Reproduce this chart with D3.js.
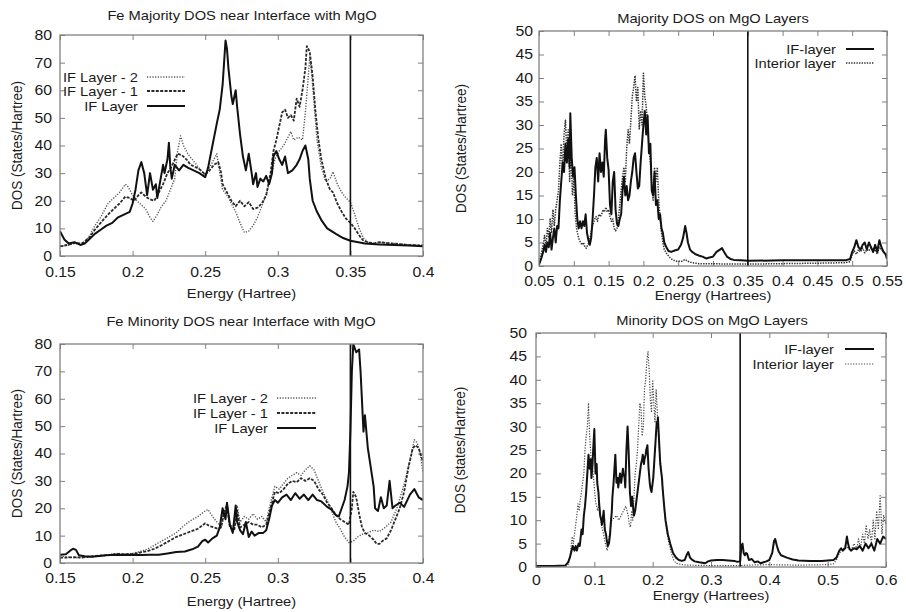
<!DOCTYPE html>
<html>
<head>
<meta charset="utf-8">
<script src="https://cdn.jsdelivr.net/npm/d3@7"></script>
<style>
  body { margin: 0; background: #fff; }
  svg { display: block; }
  text { font-family: "Liberation Sans", Arial, Helvetica, sans-serif; fill: #1a1a1a; }
</style>
</head>
<body>
<svg id="chart" width="906" height="612"></svg>
<script>
// ---- data: [energy, DOS] pairs ----
const feMajIF = [[0.150,9],[0.153,6],[0.156,4.5],[0.160,5],[0.164,4],[0.167,4.5],[0.170,6],[0.174,8],[0.178,9.5],[0.182,11],[0.186,12],[0.190,14],[0.194,15],[0.198,16],[0.200,19],[0.202,24],[0.204,31],[0.206,34],[0.208,30],[0.209,26],[0.210,22],[0.212,30],[0.214,24],[0.216,26],[0.217,21],[0.219,27],[0.221,33],[0.222,30],[0.224,35],[0.225,41],[0.226,32],[0.227,28],[0.229,33],[0.232,31],[0.235,33],[0.238,32],[0.242,31],[0.246,30],[0.250,28.5],[0.252,32],[0.255,40],[0.258,48],[0.260,53],[0.262,62],[0.263,70],[0.264,78],[0.265,75],[0.266,68],[0.268,58],[0.269,55],[0.271,60],[0.272,54],[0.274,44],[0.276,36],[0.278,31],[0.280,37],[0.282,30],[0.283,26],[0.285,30],[0.286,25],[0.288,28],[0.290,27],[0.292,29],[0.294,26],[0.296,30],[0.297,36],[0.299,38],[0.301,35],[0.303,33],[0.305,36],[0.307,30],[0.310,31],[0.313,33],[0.315,35],[0.317,38],[0.319,40],[0.321,35],[0.322,28],[0.324,20],[0.327,16],[0.330,13],[0.334,10],[0.340,8],[0.345,6.5],[0.350,5.5],[0.360,4.5],[0.370,4.2],[0.380,4],[0.390,3.8],[0.400,3.5]];
const feMajL1 = [[0.150,3.5],[0.155,4],[0.160,4.8],[0.165,4.5],[0.170,6.5],[0.174,9.5],[0.178,12],[0.183,15],[0.187,17],[0.191,19],[0.195,21.5],[0.198,21],[0.201,20],[0.204,22],[0.206,23],[0.209,21.5],[0.212,20.5],[0.215,20],[0.218,23],[0.221,26],[0.224,30],[0.227,32.5],[0.231,37],[0.234,36.5],[0.237,35],[0.240,33],[0.244,32],[0.247,31],[0.250,29.5],[0.253,31],[0.256,33],[0.259,34],[0.261,30],[0.262,26],[0.265,23],[0.268,20],[0.271,18],[0.274,20],[0.277,18],[0.280,19.5],[0.283,17],[0.286,17.5],[0.289,19],[0.292,22],[0.295,30],[0.297,38],[0.299,42],[0.301,47],[0.303,52],[0.305,53],[0.307,50],[0.309,51],[0.311,49],[0.313,57],[0.315,54],[0.317,60],[0.319,68],[0.320,76],[0.322,74],[0.324,65],[0.326,52],[0.328,42],[0.330,35],[0.333,28],[0.336,24],[0.338,23],[0.341,19],[0.344,16],[0.347,13.5],[0.350,12],[0.353,10],[0.356,7.5],[0.359,5.5],[0.363,4.8],[0.367,4.6],[0.370,5],[0.375,4.7],[0.380,4.5],[0.390,4],[0.400,3.8]];
const feMajL2 = [[0.150,3.5],[0.155,3.8],[0.160,4.5],[0.165,4.2],[0.170,7],[0.174,11],[0.178,14],[0.183,19],[0.187,21],[0.191,23],[0.195,26],[0.197,25],[0.200,22],[0.203,20],[0.206,18.5],[0.209,17],[0.212,14],[0.214,12.5],[0.217,15],[0.220,18],[0.223,20],[0.226,24],[0.229,28],[0.231,38],[0.233,43.5],[0.235,40],[0.238,37],[0.241,35],[0.244,33],[0.247,31],[0.250,29],[0.253,32],[0.256,35],[0.258,37],[0.260,30],[0.262,24],[0.265,22],[0.268,19],[0.271,16],[0.274,12],[0.277,8.5],[0.280,9],[0.283,11],[0.286,14],[0.289,18],[0.292,22],[0.295,28],[0.298,35],[0.301,38],[0.304,40],[0.307,43],[0.309,45],[0.311,42],[0.314,43],[0.317,42],[0.319,52],[0.321,65],[0.322,72],[0.323,68],[0.325,55],[0.327,42],[0.330,32],[0.333,27],[0.336,28],[0.338,30.5],[0.341,26],[0.344,23],[0.347,21],[0.350,19.5],[0.353,15],[0.356,10],[0.359,6.5],[0.362,5],[0.366,4.5],[0.370,5],[0.375,4.8],[0.380,4.5],[0.390,4],[0.400,3.8]];

const feMinIF = [[0.150,3],[0.154,3.2],[0.157,4.5],[0.159,5.2],[0.161,4.8],[0.163,2.8],[0.167,2.5],[0.172,2.3],[0.177,2.6],[0.182,2.8],[0.188,3],[0.194,2.9],[0.200,3],[0.206,2.9],[0.212,3],[0.218,3],[0.224,3.5],[0.230,4],[0.236,4.2],[0.241,5],[0.245,6],[0.248,8],[0.250,8.5],[0.252,7.5],[0.255,9],[0.258,10],[0.260,13],[0.262,20],[0.264,16],[0.265,22],[0.267,14],[0.269,11],[0.271,21],[0.272,15],[0.274,12],[0.276,10.5],[0.278,15],[0.280,9.5],[0.282,11.5],[0.284,10],[0.287,11],[0.290,11],[0.292,12],[0.294,16],[0.296,21],[0.298,23],[0.300,22],[0.303,24],[0.306,25],[0.309,23],[0.312,25.5],[0.315,23.5],[0.318,25],[0.321,23],[0.324,25],[0.327,23],[0.330,22.5],[0.334,20.5],[0.337,19.5],[0.340,17.5],[0.342,17],[0.344,20],[0.346,23],[0.348,28],[0.349,33],[0.350,48],[0.351,70],[0.352,80],[0.354,77],[0.356,78],[0.357,70],[0.359,48],[0.360,54],[0.362,42],[0.364,35],[0.366,28],[0.367,20],[0.369,19],[0.371,24],[0.373,20],[0.375,21],[0.377,30],[0.379,20],[0.381,21],[0.384,22],[0.387,20.5],[0.391,25],[0.394,27],[0.397,24],[0.400,23]];
const feMinL1 = [[0.150,2],[0.155,2],[0.160,2.1],[0.165,2],[0.170,2.3],[0.175,2.6],[0.180,2.8],[0.185,3],[0.190,3.3],[0.195,3.2],[0.200,3.3],[0.205,3.8],[0.210,4.3],[0.215,5.2],[0.220,6.5],[0.225,8],[0.230,9.5],[0.235,10.5],[0.240,11.5],[0.245,12.5],[0.250,14.5],[0.253,13.5],[0.256,13],[0.259,12.5],[0.261,13],[0.263,19],[0.265,21],[0.267,13],[0.270,12],[0.272,19],[0.274,13],[0.277,14],[0.280,15],[0.283,14],[0.286,14],[0.289,13],[0.292,14],[0.295,20],[0.298,26],[0.301,25.5],[0.304,27],[0.307,29],[0.310,30],[0.313,29.5],[0.316,31],[0.319,30],[0.322,31],[0.325,30],[0.328,27],[0.331,25],[0.334,22],[0.337,20],[0.340,17.5],[0.343,16],[0.346,15],[0.349,14],[0.351,20],[0.352,26],[0.354,24],[0.356,18],[0.358,13],[0.360,11],[0.363,10],[0.366,8.5],[0.368,7],[0.370,7],[0.372,8],[0.375,9],[0.378,12],[0.381,16],[0.384,20],[0.387,26],[0.390,35],[0.393,42],[0.395,43],[0.397,42],[0.400,37]];
const feMinL2 = [[0.150,2.5],[0.155,2.2],[0.160,2],[0.165,2],[0.170,2.2],[0.175,2.5],[0.180,2.8],[0.185,3.2],[0.190,3.5],[0.195,3.3],[0.200,3.5],[0.205,4.2],[0.210,5],[0.215,6.5],[0.220,8],[0.225,9.5],[0.230,11],[0.235,13.5],[0.240,15.5],[0.245,17],[0.250,19],[0.252,19.5],[0.255,17],[0.258,15],[0.261,13],[0.263,17],[0.265,22],[0.267,14],[0.270,13],[0.272,21],[0.274,15],[0.277,17],[0.280,16],[0.283,18],[0.286,16],[0.289,17],[0.292,15],[0.295,22],[0.298,28],[0.301,27],[0.304,29],[0.307,31],[0.310,32],[0.313,33],[0.316,32],[0.319,34],[0.322,35.5],[0.325,34],[0.328,30],[0.331,26],[0.334,23],[0.337,19],[0.340,15],[0.343,12.5],[0.346,9.5],[0.349,7.5],[0.352,8],[0.355,9.5],[0.358,10.5],[0.362,11],[0.366,12],[0.370,11.5],[0.374,13],[0.378,15],[0.382,20],[0.386,27],[0.389,33],[0.392,40],[0.394,45],[0.396,44],[0.398,40],[0.400,33]];

const mgoMajIF = [[0.050,0.3],[0.053,1.5],[0.056,3],[0.058,4.5],[0.060,3],[0.062,5],[0.064,4],[0.066,7],[0.068,3.5],[0.070,6],[0.072,8],[0.074,5],[0.076,8.5],[0.078,8],[0.080,14],[0.082,18],[0.084,22],[0.086,20],[0.088,26],[0.090,22],[0.092,27],[0.094,21],[0.095,32.5],[0.097,23],[0.099,19],[0.101,21],[0.103,15],[0.105,10],[0.107,8],[0.109,9.5],[0.111,8],[0.113,9.5],[0.115,8.5],[0.117,11],[0.119,7],[0.121,5.5],[0.123,4.5],[0.125,6],[0.127,10],[0.129,15],[0.131,21],[0.133,23],[0.135,18],[0.137,24],[0.139,20],[0.141,22],[0.143,19],[0.145,27],[0.146,29],[0.148,23],[0.150,20.5],[0.152,13],[0.154,11],[0.156,18],[0.158,20],[0.160,12],[0.162,9],[0.164,8.5],[0.166,10],[0.168,11],[0.170,16],[0.172,19],[0.174,15],[0.176,17],[0.178,14],[0.180,15],[0.182,18],[0.184,20],[0.186,23],[0.188,24],[0.190,20],[0.192,16.5],[0.194,17],[0.196,22],[0.198,26],[0.200,30],[0.202,33],[0.204,28],[0.206,32],[0.208,24],[0.210,26],[0.212,16],[0.214,15],[0.216,20],[0.218,13],[0.220,14],[0.222,10],[0.224,11],[0.226,8],[0.228,7],[0.230,5],[0.233,4],[0.236,3.2],[0.240,3],[0.245,3.3],[0.250,3.5],[0.254,4.5],[0.257,6],[0.260,8.5],[0.262,7],[0.264,5],[0.267,3.5],[0.270,3],[0.275,2.5],[0.280,2.2],[0.285,2],[0.290,1.6],[0.295,1.8],[0.300,2],[0.305,3],[0.310,3.5],[0.313,3.8],[0.316,3],[0.320,2],[0.325,1.5],[0.330,1.3],[0.340,1.2],[0.350,1.1],[0.400,1.2],[0.450,1.2],[0.490,1.2],[0.497,1.5],[0.500,3],[0.503,4],[0.506,5.5],[0.509,4],[0.512,3.5],[0.515,4.5],[0.518,5],[0.521,3.5],[0.524,5],[0.527,4],[0.530,3],[0.533,4.5],[0.536,3],[0.539,5.5],[0.542,4],[0.545,3],[0.548,2.5],[0.550,1.5]];
const mgoMajInt = [[0.050,0.3],[0.053,2.5],[0.056,4.5],[0.058,6.5],[0.060,4],[0.062,8],[0.064,6],[0.066,10],[0.068,7],[0.070,12],[0.072,8.5],[0.074,12],[0.076,14],[0.078,16],[0.080,22],[0.082,26],[0.084,20],[0.086,28],[0.088,31],[0.090,24],[0.092,29],[0.094,18],[0.096,25],[0.098,15],[0.100,19],[0.102,11],[0.104,8],[0.106,6.5],[0.108,5.5],[0.110,5],[0.112,4.5],[0.114,5],[0.116,4],[0.118,3.8],[0.120,4.5],[0.122,5],[0.124,6.5],[0.126,8],[0.128,9],[0.130,10],[0.132,10.5],[0.134,9.5],[0.136,11],[0.138,10.5],[0.140,11],[0.142,12],[0.144,11.5],[0.146,12.5],[0.148,11.5],[0.150,12],[0.152,10.5],[0.154,9.5],[0.156,10],[0.158,8],[0.160,7.5],[0.162,8],[0.164,10],[0.166,13],[0.168,16],[0.170,19],[0.172,21],[0.174,18],[0.176,25],[0.178,29],[0.180,26],[0.182,31],[0.184,36],[0.186,38],[0.188,40.5],[0.190,35],[0.192,38],[0.194,29],[0.196,33],[0.198,30],[0.200,41],[0.202,36],[0.204,34],[0.206,30],[0.208,25],[0.210,22],[0.212,17],[0.214,14],[0.216,21],[0.218,18],[0.220,21],[0.222,14],[0.224,10],[0.226,7],[0.228,5],[0.230,3.5],[0.234,2.5],[0.238,1.8],[0.242,1.3],[0.248,1],[0.255,1],[0.260,1.4],[0.264,1],[0.270,0.7],[0.280,0.5],[0.300,0.5],[0.320,0.4],[0.350,0.4],[0.400,0.5],[0.450,0.6],[0.490,0.7],[0.497,0.9],[0.500,2.5],[0.503,3.2],[0.506,2.5],[0.509,3.5],[0.512,3],[0.515,3.8],[0.518,2.8],[0.521,3.5],[0.524,3.2],[0.527,4],[0.530,3],[0.533,3.5],[0.536,2.5],[0.539,4],[0.542,3.5],[0.545,3],[0.548,2.5],[0.550,2]];

const mgoMinIF = [[0.000,0.2],[0.030,0.2],[0.050,0.3],[0.055,1],[0.058,2],[0.060,3],[0.063,4.5],[0.066,3.5],[0.068,4.5],[0.070,3.5],[0.073,5],[0.075,4.5],[0.078,8],[0.080,7],[0.082,11],[0.084,13],[0.086,16],[0.088,20],[0.090,24],[0.092,21],[0.094,23],[0.095,19],[0.097,22],[0.098,25],[0.100,29.5],[0.102,20],[0.104,22],[0.105,18],[0.107,16],[0.108,14],[0.110,11],[0.112,10],[0.113,9],[0.115,11],[0.116,12],[0.118,8],[0.120,7],[0.121,6],[0.123,4.5],[0.125,5],[0.127,7],[0.128,9],[0.130,12],[0.131,15],[0.133,18],[0.134,20],[0.136,24],[0.138,18],[0.140,19],[0.141,17],[0.143,19],[0.144,20],[0.146,18],[0.147,19],[0.149,21],[0.150,20],[0.152,19],[0.153,17],[0.155,25],[0.157,30],[0.158,27],[0.159,24],[0.161,16],[0.163,13],[0.165,15],[0.167,12],[0.168,11],[0.170,12],[0.172,14],[0.173,15],[0.175,17],[0.176,18],[0.178,20],[0.180,22],[0.182,23],[0.183,24],[0.185,22],[0.186,23],[0.188,24],[0.189,25],[0.191,26],[0.193,21],[0.195,18],[0.196,17],[0.198,16],[0.199,17],[0.201,19],[0.202,21],[0.204,25],[0.205,27],[0.207,31],[0.208,30],[0.209,32],[0.211,27],[0.213,22],[0.214,21],[0.216,19],[0.217,17],[0.219,14],[0.222,10],[0.224,8.5],[0.226,7],[0.230,5],[0.235,3],[0.240,2],[0.245,1.5],[0.250,1.3],[0.255,1.5],[0.258,2.5],[0.261,3.2],[0.264,2],[0.268,1.5],[0.272,1.2],[0.280,1],[0.290,0.8],[0.295,1.2],[0.300,1.4],[0.310,1.5],[0.320,1.5],[0.330,1.4],[0.340,1.3],[0.345,1.1],[0.350,1.2],[0.352,4.5],[0.354,5],[0.356,3],[0.358,2.5],[0.360,3],[0.362,2.8],[0.365,1.5],[0.370,1.7],[0.375,1],[0.380,1.2],[0.385,0.8],[0.390,1],[0.395,1.2],[0.400,1.5],[0.405,3],[0.408,5.5],[0.410,6],[0.413,4.5],[0.416,3.3],[0.420,2.5],[0.430,2],[0.440,1.6],[0.450,1.4],[0.470,1.3],[0.490,1.3],[0.510,1.5],[0.515,2],[0.520,3.5],[0.523,4],[0.526,3.5],[0.530,4],[0.533,6.5],[0.535,5],[0.537,4],[0.540,3.5],[0.545,4],[0.550,3.8],[0.555,4.5],[0.560,3.5],[0.565,5],[0.570,4],[0.575,5],[0.580,3.5],[0.585,6],[0.590,5],[0.595,6.5],[0.600,6]];
const mgoMinInt = [[0.000,0],[0.050,0],[0.055,0.5],[0.058,2],[0.060,4],[0.062,6.5],[0.064,5],[0.066,7],[0.068,9],[0.070,11],[0.072,13.5],[0.074,12],[0.076,14.5],[0.078,16],[0.080,18],[0.082,20],[0.084,25],[0.086,28],[0.088,30],[0.090,35],[0.092,28],[0.094,24],[0.096,22],[0.098,20],[0.100,17],[0.102,14],[0.104,13],[0.106,12],[0.108,14],[0.110,11],[0.112,9],[0.114,8],[0.116,7],[0.118,5.5],[0.120,4.5],[0.122,3.5],[0.124,5],[0.126,7],[0.128,8.5],[0.130,10],[0.134,10.5],[0.138,11],[0.142,10],[0.146,11],[0.150,12],[0.154,13],[0.158,11],[0.160,9],[0.162,8.5],[0.164,12],[0.166,10],[0.168,15],[0.170,20],[0.172,22],[0.174,25],[0.176,30],[0.178,35],[0.180,34],[0.182,28],[0.184,30],[0.186,38],[0.188,40],[0.190,44],[0.192,46],[0.194,42],[0.196,36],[0.198,33],[0.200,40],[0.202,35],[0.204,31],[0.206,38],[0.208,33],[0.210,28],[0.212,24],[0.214,22],[0.216,18],[0.218,16],[0.220,12],[0.222,10],[0.225,7],[0.228,5],[0.232,3],[0.236,1.5],[0.240,0.8],[0.250,0.5],[0.260,0.4],[0.300,0.3],[0.350,0.3],[0.360,0.4],[0.400,0.5],[0.450,0.4],[0.500,0.5],[0.510,0.7],[0.515,1.5],[0.520,3],[0.525,3.5],[0.530,4.5],[0.535,4],[0.540,3.5],[0.545,5],[0.550,4],[0.553,6],[0.556,4],[0.560,7],[0.563,5],[0.566,9],[0.569,6],[0.572,8],[0.575,5],[0.578,10],[0.581,6],[0.584,12],[0.587,8],[0.590,15.5],[0.593,7],[0.596,11],[0.600,9]];

// ---- tick values ----
const xTicksFe = [0.15, 0.2, 0.25, 0.3, 0.35, 0.4];
const yTicksFe = [0, 10, 20, 30, 40, 50, 60, 70, 80];
const xTicksMajMgO = [0.05, 0.1, 0.15, 0.2, 0.25, 0.3, 0.35, 0.4, 0.45, 0.5, 0.55];
const xTicksMinMgO = [0, 0.1, 0.2, 0.3, 0.4, 0.5, 0.6];
const yTicksMgO = [0, 5, 10, 15, 20, 25, 30, 35, 40, 45, 50];
const fermiLevel = 0.35;

// line styles
const solid  = { stroke: "#111", width: 2, dash: null };
const dashL1 = { stroke: "#2a2a2a", width: 1.8, dash: "3,1.4" };
const dotL2  = { stroke: "#555", width: 1.4, dash: "1.2,1.5" };
const dotInt = { stroke: "#333", width: 1.5, dash: "1.4,1.2" };
const dotIntMin = { stroke: "#444", width: 1.2, dash: "1.2,1.5" };

const SX = 1.13; // glyphs in this figure are slightly wide
const fmt = d3.format("~g");

const panels = [
  { left: 60, right: 423, top: 35, bottom: 256, xDom: [0.15, 0.4], yDom: [0, 80],
    xTicks: xTicksFe, yTicks: yTicksFe, xPad: 11, yPad: 8,
    title: "Fe Majority DOS near Interface with MgO", titleX: 242, titleY: 15,
    xLabel: "Energy (Hartree)", xLabelY: 293, yLabel: "DOS (States/Hartree)", yLabelX: 17,
    series: [[feMajL2, dotL2], [feMajL1, dashL1], [feMajIF, solid]],
    legend: { right: 138, x1: 147, x2: 185, rows: [[77, "IF Layer - 2", dotL2], [91, "IF Layer - 1", dashL1], [106, "IF Layer", solid]] } },
  { left: 539, right: 887, top: 31, bottom: 266, xDom: [0.05, 0.55], yDom: [0, 50],
    xTicks: xTicksMajMgO, yTicks: yTicksMgO, xPad: 10, yPad: 6,
    title: "Majority DOS on MgO Layers", titleX: 713, titleY: 18,
    xLabel: "Energy (Hartrees)", xLabelY: 295.5, yLabel: "DOS (States/Hartree)", yLabelX: 461,
    series: [[mgoMajInt, dotInt], [mgoMajIF, solid]],
    legend: { right: 836, x1: 846, x2: 874, rows: [[49, "IF-layer", solid], [63, "Interior layer", dotInt]] } },
  { left: 60, right: 423, top: 344, bottom: 563, xDom: [0.15, 0.4], yDom: [0, 80],
    xTicks: xTicksFe, yTicks: yTicksFe, xPad: 10, yPad: 8,
    title: "Fe Minority DOS near Interface with MgO", titleX: 241, titleY: 321,
    xLabel: "Energy (Hartree)", xLabelY: 601, yLabel: "DOS (States/Hartree)", yLabelX: 17,
    series: [[feMinL2, dotL2], [feMinL1, dashL1], [feMinIF, solid]],
    legend: { right: 268, x1: 277, x2: 316, rows: [[398, "IF Layer - 2", dotL2], [413, "IF Layer - 1", dashL1], [428, "IF Layer", solid]] } },
  { left: 536, right: 886, top: 333, bottom: 567, xDom: [0, 0.6], yDom: [0, 50],
    xTicks: xTicksMinMgO, yTicks: yTicksMgO, xPad: 8, yPad: 9,
    title: "Minority DOS on MgO Layers", titleX: 712, titleY: 320,
    xLabel: "Energy (Hartrees)", xLabelY: 595.5, yLabel: "DOS (states/Hartree)", yLabelX: 460,
    series: [[mgoMinInt, dotIntMin], [mgoMinIF, solid]],
    legend: { right: 834, x1: 845, x2: 874, rows: [[349, "IF-layer", solid], [364, "Interior layer", dotIntMin]] } }
];

const svg = d3.select("#chart");

function wideText(g, x, y, str, size, anchor) {
  return g.append("text")
    .attr("transform", `translate(${x},${y}) scale(${SX},1)`)
    .attr("text-anchor", anchor || "middle")
    .attr("dy", "0.35em")
    .attr("font-size", size)
    .text(str);
}

function widenAxisText(sel) {
  sel.selectAll("text").each(function () {
    const t = d3.select(this);
    const x = +t.attr("x") || 0, y = +t.attr("y") || 0;
    t.attr("x", null).attr("y", null)
      .attr("transform", `translate(${x},${y}) scale(${SX},1)`);
  });
}

function applyStyle(sel, st) {
  sel.attr("fill", "none")
    .attr("stroke", st.stroke)
    .attr("stroke-width", st.width)
    .attr("stroke-dasharray", st.dash)
    .attr("stroke-linejoin", "round");
}

panels.forEach((p, i) => {
  const g = svg.append("g");
  const x = d3.scaleLinear().domain(p.xDom).range([p.left, p.right]);
  const y = d3.scaleLinear().domain(p.yDom).range([p.bottom, p.top]);
  const axisColor = "#808080";

  // ticks, inward on all four sides
  const gx = g.append("g").attr("transform", `translate(0,${p.bottom})`)
    .call(d3.axisBottom(x).tickValues(p.xTicks).tickFormat(fmt).tickSizeInner(-5).tickSizeOuter(0).tickPadding(p.xPad));
  const gxt = g.append("g").attr("transform", `translate(0,${p.top})`)
    .call(d3.axisTop(x).tickValues(p.xTicks).tickFormat("").tickSizeInner(-5).tickSizeOuter(0));
  const gy = g.append("g").attr("transform", `translate(${p.left},0)`)
    .call(d3.axisLeft(y).tickValues(p.yTicks).tickFormat(fmt).tickSizeInner(-5).tickSizeOuter(0).tickPadding(p.yPad));
  const gyr = g.append("g").attr("transform", `translate(${p.right},0)`)
    .call(d3.axisRight(y).tickValues(p.yTicks).tickFormat("").tickSizeInner(-5).tickSizeOuter(0));
  [gx, gxt, gy, gyr].forEach(a => {
    a.select(".domain").remove();
    a.selectAll(".tick line").attr("stroke", axisColor).attr("stroke-width", 1);
    a.selectAll("text").attr("font-size", 14).attr("fill", "#1a1a1a")
      .attr("font-family", '"Liberation Sans", Arial, sans-serif');
  });
  widenAxisText(gx);
  widenAxisText(gy);

  // curves
  const clipId = `clip${i}`;
  g.append("clipPath").attr("id", clipId).append("rect")
    .attr("x", p.left).attr("y", p.top).attr("width", p.right - p.left).attr("height", p.bottom - p.top);
  const line = d3.line().x(d => x(d[0])).y(d => y(d[1]));
  const curves = g.append("g").attr("clip-path", `url(#${clipId})`);
  p.series.forEach(([data, st]) => {
    curves.append("path").datum(data).attr("d", line).call(applyStyle, st);
  });

  // Fermi level marker
  g.append("line")
    .attr("x1", x(fermiLevel)).attr("x2", x(fermiLevel))
    .attr("y1", y(p.yDom[0])).attr("y2", y(p.yDom[1]))
    .attr("stroke", "#111").attr("stroke-width", 1.6);

  // frame
  g.append("rect")
    .attr("x", p.left).attr("y", p.top)
    .attr("width", p.right - p.left).attr("height", p.bottom - p.top)
    .attr("fill", "none").attr("stroke", axisColor).attr("stroke-width", 1.3);

  // legend
  p.legend.rows.forEach(([ly, label, st]) => {
    wideText(g, p.legend.right, ly, label, 13, "end");
    g.append("line").attr("x1", p.legend.x1).attr("x2", p.legend.x2)
      .attr("y1", ly).attr("y2", ly).call(applyStyle, st);
  });

  // titles and axis labels
  wideText(g, p.titleX, p.titleY, p.title, 13);
  wideText(g, (p.left + p.right) / 2, p.xLabelY, p.xLabel, 13);
  g.append("text")
    .attr("transform", `translate(${p.yLabelX},${(p.top + p.bottom) / 2}) rotate(-90) scale(1,${SX})`)
    .attr("text-anchor", "middle").attr("dy", "0.35em")
    .attr("font-size", 13.5)
    .text(p.yLabel);
});
</script>
</body>
</html>
